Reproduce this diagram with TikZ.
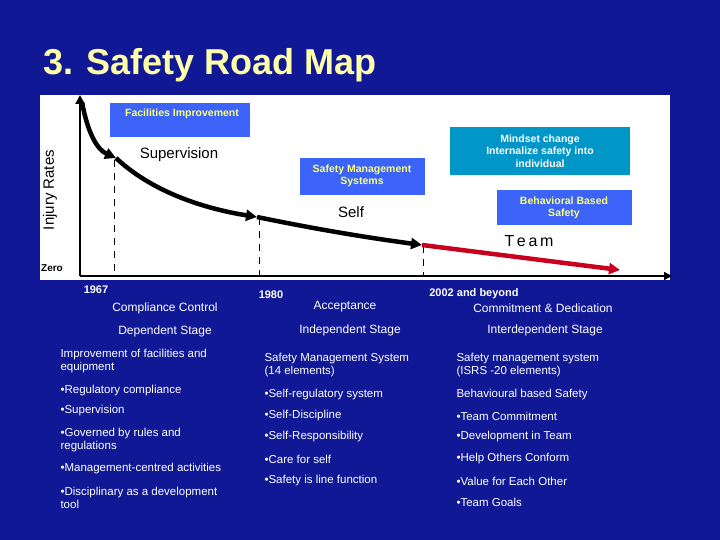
\documentclass[tikz,border=0pt]{standalone}
\usepackage{fontspec}
\setmainfont{Liberation Sans}
\usetikzlibrary{arrows.meta}
\definecolor{bg}{RGB}{16,24,150}
\definecolor{boxb}{RGB}{60,100,250}
\definecolor{teal}{RGB}{0,150,200}
\definecolor{yel}{RGB}{255,255,120}
\definecolor{ttl}{RGB}{255,255,170}
\definecolor{redc}{RGB}{200,0,30}
\begin{document}
\begin{tikzpicture}[x=1pt,y=-1pt,
 lbl/.style={text=white,font=\fontsize{11.5}{13.5}\selectfont,anchor=west,align=left},
 captxt/.style={text=white,font=\fontsize{12}{14}\selectfont},
 yr/.style={text=white,font=\bfseries\fontsize{11}{13}\selectfont},
 btxt/.style={font=\bfseries\fontsize{10.5}{12.5}\selectfont,align=center},
 dsh/.style={thick,dash pattern=on 7pt off 6pt},
 big/.style={-{Triangle[length=11pt,width=11pt]},line width=4.5pt}]
\fill[bg] (0,0) rectangle (720,540);
\useasboundingbox (0,0) rectangle (720,540);
\node[text=ttl,font=\bfseries\fontsize{36}{40}\selectfont,anchor=west] (title) at (40,65) {3. Safety Road Map};
\fill[white] (40,95) rectangle (670,280);
\node[fill=boxb,minimum width=140pt,minimum height=34pt,anchor=north west] (fac) at (110,103) {};
\node[btxt,text=yel] (factxt) at (182,114) {Facilities Improvement};
\node[fill=boxb,minimum width=125pt,minimum height=37pt,anchor=north west] (sms) at (300,158) {};
\node[btxt,text=yel] (smstxt) at (362,176) {Safety Management\\Systems};
\node[fill=teal,text=white,btxt,minimum width=180pt,minimum height=48pt] (mind) at (540,151) {Mindset change\\Internalize safety into\\individual};
\node[fill=boxb,text=yel,btxt,minimum width=135pt,minimum height=35pt] (beh) at (564,208) {Behavioral Based\\Safety};
\node[font=\fontsize{15}{17}\selectfont] (sup) at (179,155) {Supervision};
\node[font=\fontsize{15}{17}\selectfont] (self) at (351,212) {Self};
\node[font=\fontsize{16}{18}\selectfont] (team) at (529,241) {T\,e\,a\,m};
\node[rotate=90,font=\fontsize{15}{17}\selectfont] (inj) at (50,190) {Injury Rates};
\node[font=\bfseries\fontsize{10}{12}\selectfont] (zero) at (52,268) {Zero};
\coordinate (o) at (80,276);
\coordinate (ytop) at (80,95);
\coordinate (xend) at (672,276);
\draw[line width=1.6pt,-{Triangle[length=8pt,width=8pt]}] (o) -- (xend);
\coordinate (p0) at (82,102);
\coordinate (p1) at (116,158);
\coordinate (p2) at (257,217);
\coordinate (p3) at (422,245);
\coordinate (p4) at (620,270);
\draw[line width=2pt,-{Triangle[length=9pt,width=9pt]}] (o) -- (ytop);
\draw[big] (p0) .. controls (88,135) and (98,150) .. (p1);
\draw[big] (p1) .. controls (150,190) and (200,208) .. (p2);
\draw[big] (p2) .. controls (320,230) and (370,238) .. (p3);
\draw[big,redc] (p3) -- (p4);
\draw[dsh] (114,160) -- (114,276);
\draw[dsh] (259,218) -- (259,276);
\draw[dsh] (423,246) -- (423,276);
\node[yr] (y1) at (96,290) {1967};
\node[captxt] (c1) at (165,308) {Compliance Control};
\node[captxt] (s1) at (165,331) {Dependent Stage};
\node[yr] (y2) at (271,295) {1980};
\node[captxt] (c2) at (345,307) {Acceptance};
\node[captxt] (s2) at (350,330) {Independent Stage};
\node[yr] (y3) at (474,294) {2002 and beyond};
\node[captxt] (c3) at (543,308) {Commitment \& Dedication};
\node[captxt] (s3) at (545,330) {Interdependent Stage};
\node[lbl] (a1) at (57,361) {Improvement of facilities and\\equipment};
\node[lbl] (a2) at (57,391) {\textbullet Regulatory compliance};
\node[lbl] (a3) at (57,411) {\textbullet Supervision};
\node[lbl] (a4) at (57,440) {\textbullet Governed by rules and\\regulations};
\node[lbl] (a5) at (57,469) {\textbullet Management-centred activities};
\node[lbl] (a6) at (57,498) {\textbullet Disciplinary as a development\\tool};
\node[lbl] (b1) at (261,365) {Safety Management System\\(14 elements)};
\node[lbl] (b2) at (261,395) {\textbullet Self-regulatory system};
\node[lbl] (b3) at (261,416) {\textbullet Self-Discipline};
\node[lbl] (b4) at (261,437) {\textbullet Self-Responsibility};
\node[lbl] (b5) at (261,459) {\textbullet Care for self};
\node[lbl] (b6) at (261,481) {\textbullet Safety is line function};
\node[lbl] (d1) at (453,365) {Safety management system\\(ISRS -20 elements)};
\node[lbl] (d2) at (453,395) {Behavioural based Safety};
\node[lbl] (d3) at (453,416) {\textbullet Team Commitment};
\node[lbl] (d4) at (453,437) {\textbullet Development in Team};
\node[lbl] (d5) at (453,459) {\textbullet Help Others Conform};
\node[lbl] (d6) at (453,481) {\textbullet Value for Each Other};
\node[lbl] (d7) at (453,502) {\textbullet Team Goals};
\end{tikzpicture}
\end{document}
